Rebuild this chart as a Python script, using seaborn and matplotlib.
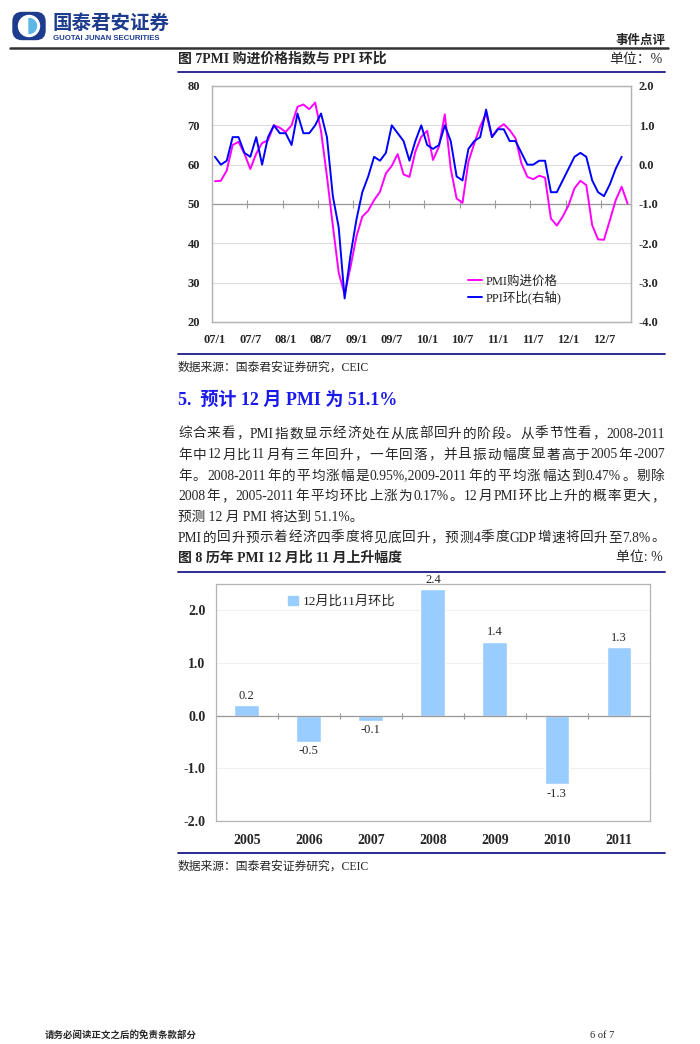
import re
import numpy as np
import pandas as pd
import seaborn as sns
import matplotlib.pyplot as plt
from matplotlib.lines import Line2D
from matplotlib.patches import FancyBboxPatch, Circle, Wedge, Patch

# ---- data ----
month_labels = ['07/1', '07/7', '08/1', '08/7', '09/1', '09/7',
                '10/1', '10/7', '11/1', '11/7', '12/1', '12/7']

# PMI purchase price index, monthly from 2007/1 (left axis)
pmi_price = [55.8, 55.9, 58.5, 65.0, 65.8, 62.8, 58.9, 62.8, 65.5, 66.2, 70.0, 69.4,
             68.3, 70.0, 74.7, 75.3, 74.1, 75.8, 68.5, 57.0, 44.5, 32.5, 27.0, 34.0,
             41.7, 46.8, 48.3, 51.0, 53.1, 57.8, 59.7, 62.7, 57.5, 56.9, 63.3, 67.1,
             68.6, 61.2, 64.6, 72.8, 59.0, 51.4, 50.3, 60.7, 65.4, 69.7, 73.0, 67.1,
             69.2, 70.3, 68.8, 66.7, 60.3, 56.9, 56.3, 57.2, 56.7, 46.3, 44.5, 46.8,
             49.7, 54.0, 55.9, 54.8, 44.6, 41.0, 40.9, 45.9, 51.0, 54.4, 50.1]

# PPI month-on-month, % (right axis)
ppi_mom = [0.2, 0.0, 0.1, 0.7, 0.7, 0.3, 0.2, 0.7, 0.0, 0.7, 1.0, 0.8,
           0.8, 0.5, 1.3, 0.8, 0.8, 1.0, 1.3, 0.7, -0.8, -1.6, -3.4, -2.3,
           -1.4, -0.7, -0.3, 0.2, 0.1, 0.3, 1.0, 0.8, 0.6, 0.1, 0.6, 1.0,
           0.5, 0.4, 0.5, 1.0, 0.6, -0.3, -0.4, 0.4, 0.6, 0.7, 1.4, 0.7,
           0.9, 0.9, 0.6, 0.6, 0.3, 0.0, 0.0, 0.1, 0.1, -0.7, -0.7, -0.4,
           -0.1, 0.2, 0.3, 0.2, -0.4, -0.7, -0.8, -0.5, -0.1, 0.2]

years = ['2005', '2006', '2007', '2008', '2009', '2010', '2011']
dec_vs_nov = [0.2, -0.5, -0.1, 2.4, 1.4, -1.3, 1.3]

body_lines = [
    '综合来看，PMI 指数显示经济处在从底部回升的阶段。从季节性看，2008-2011',
    '年中 12 月比 11 月有三年回升，一年回落，并且振动幅度显著高于 2005 年-2007',
    '年。2008-2011 年的平均涨幅是 0.95%,2009-2011 年的平均涨幅达到 0.47%。剔除',
    '2008 年，2005-2011 年平均环比上涨为 0.17%。12 月 PMI 环比上升的概率更大，',
    '预测 12 月 PMI 将达到 51.1%。',
    'PMI 的回升预示着经济四季度将见底回升，预测 4 季度 GDP 增速将回升至 7.8%。',
]

sns.set_theme(style='white')
plt.rcParams['font.family'] = ['Liberation Serif', 'Noto Sans CJK SC']
plt.rcParams['axes.unicode_minus'] = False

W, H = 700, 1044
fig = plt.figure(figsize=(7, 10.44), dpi=100)
renderer = fig.canvas.get_renderer()

NAVY = '#1d3c8e'
RULE = '#1a1a8a'
GREY = '#b4b4b4'


def ftext(x, y, s, **kw):
    kw.setdefault('va', 'center')
    return fig.text(x / W, 1 - y / H, s, **kw)


def hline(x0, x1, y, color, lw):
    fig.add_artist(Line2D([x0 / W, x1 / W], [1 - y / H, 1 - y / H], color=color, lw=lw))


def justify(line, y, x0=178, x1=665, size=9.8):
    tokens = re.findall(r'[0-9A-Za-z.,%\-]+|\S', line)
    texts = [ftext(0, y, t, fontsize=size) for t in tokens]
    widths = [t.get_window_extent(renderer).width for t in texts]
    gap = (x1 - x0 - sum(widths)) / (len(texts) - 1)
    x = x0
    for t, w in zip(texts, widths):
        t.set_x(x / W)
        x += w + gap


# ---- page header ----
lg = fig.add_axes([11 / W, 1 - 41 / H, 36 / W, 30 / H])
lg.set_xlim(0, 36)
lg.set_ylim(0, 30)
lg.axis('off')
lg.add_patch(FancyBboxPatch((2, 1.5), 32, 27, boxstyle='round,pad=0,rounding_size=9', color=NAVY))
lg.add_patch(Circle((18, 15), 10.5, color='white'))
lg.add_patch(Wedge((18, 15), 7.5, -90, 90, color='#5cb6e6'))

ftext(52, 23, '国泰君安证券', fontsize=14, weight='bold', color=NAVY, family='Noto Sans CJK SC')
ftext(53, 38, 'GUOTAI JUNAN SECURITIES', fontsize=5.6, weight='bold', color=NAVY, family='Liberation Sans')
ftext(665, 40, '事件点评', fontsize=9, weight='bold', ha='right', family='Noto Sans CJK SC')
hline(10, 668, 48, '#333333', 1.8)

# ---- figure 7 ----
ftext(178, 59, '图 7PMI 购进价格指数与 PPI 环比', fontsize=10, weight='bold')
ftext(663, 59, '单位：%', fontsize=10, ha='right')
hline(178, 665, 72, RULE, 1.3)

ax = fig.add_axes([212 / W, 1 - 322 / H, 418.5 / W, 236 / H])
ax2 = ax.twinx()
months = np.arange(len(pmi_price))
sns.lineplot(x=months, y=pmi_price, ax=ax, color='#ff00ff', linewidth=1.4)
sns.lineplot(x=months[:len(ppi_mom)], y=ppi_mom, ax=ax2, color='#0000ff', linewidth=1.4)

ax.set_xlim(-0.5, 70.5)
ax.set_ylim(20, 80)
ax2.set_ylim(-4, 2)
ax.set_yticks(np.arange(20, 81, 10))
ax2.set_yticks(np.arange(-4, 2.1, 1))
ax2.set_yticklabels([f'{v:.1f}' for v in np.arange(-4, 2.1, 1)])
ax.set_xticks(np.arange(0, 67, 6))
ax.set_xticklabels(month_labels)
ax.set_xlabel('')
ax.set_ylabel('')
ax2.set_ylabel('')
ax.tick_params(axis='x', length=0, pad=9, labelsize=9)
ax.tick_params(axis='y', length=0, pad=8.5, labelsize=9)
ax2.tick_params(axis='y', length=0, pad=6, labelsize=9)
for lab in ax.get_xticklabels() + ax.get_yticklabels() + ax2.get_yticklabels():
    lab.set_fontweight('bold')
ax.yaxis.grid(True, color='#dcdcdc', lw=0.8)
ax.set_axisbelow(True)
for a in (ax, ax2):
    for s in a.spines.values():
        s.set_color(GREY)
        s.set_linewidth(0.9)

# category axis crossing at 50, tick marks between categories
sec = ax.secondary_xaxis(0.5)
sec.set_zorder(1)
sec.set_xticks(np.arange(5.5, 70, 6))
sec.tick_params(direction='inout', length=6, color='#999999', width=0.8,
                labeltop=False, labelbottom=False)
for s in sec.spines.values():
    s.set_color('#999999')
    s.set_linewidth(0.9)

handles = [ax.lines[0], ax2.lines[0]]
ax2.legend(handles, ['PMI购进价格', 'PPI环比(右轴)'], loc='center left',
           bbox_to_anchor=(0.6, 0.135), frameon=False, fontsize=9,
           handlelength=1.1, handletextpad=0.3, labelspacing=0.25, borderaxespad=0)

hline(178, 665, 354, RULE, 1.3)
ftext(178, 368, '数据来源：国泰君安证券研究，CEIC', fontsize=8.5)

# ---- section text ----
ftext(178, 400, '5.  预计 12 月 PMI 为 51.1%', fontsize=13, weight='bold', color='#1a1aee')
body_y = [434, 455, 476, 496.5, 517, 538]
for line, y in zip(body_lines, body_y):
    if line.startswith('预测 12'):
        ftext(178, y, line, fontsize=9.8)
    else:
        justify(line, y)

# ---- figure 8 ----
ftext(178, 558, '图 8 历年 PMI 12 月比 11 月上升幅度', fontsize=10, weight='bold')
ftext(663, 558, '单位: %', fontsize=10, ha='right')
hline(178, 665, 572, RULE, 1.3)

axb = fig.add_axes([215.7 / W, 1 - 821 / H, 434.3 / W, 237 / H])
sns.barplot(x=years, y=dec_vs_nov, ax=axb, color='#99ccff', saturation=1, width=0.4)
axb.set_xlim(-0.5, 6.5)
axb.set_ylim(-2, 2.5)
axb.set_yticks([-2, -1, 0, 1, 2])
axb.set_yticklabels([f'{v:.1f}' for v in [-2, -1, 0, 1, 2]])
axb.set_xlabel('')
axb.set_ylabel('')
axb.tick_params(axis='x', length=0, pad=9, labelsize=10)
axb.tick_params(axis='y', length=0, pad=7.5, labelsize=10)
for lab in axb.get_xticklabels() + axb.get_yticklabels():
    lab.set_fontweight('bold')
axb.yaxis.grid(True, color='#f0f0f0', lw=0.8)
axb.set_axisbelow(True)
for s in axb.spines.values():
    s.set_color(GREY)
    s.set_linewidth(0.9)
axb.bar_label(axb.containers[0], fmt='%.1f', padding=2.5, fontsize=9)

secb = axb.secondary_xaxis(2 / 4.5)
secb.set_zorder(1)
secb.set_xticks(np.arange(0.5, 6, 1))
secb.tick_params(direction='inout', length=5, color='#999999', width=0.8,
                 labeltop=False, labelbottom=False)
for s in secb.spines.values():
    s.set_color('#999999')
    s.set_linewidth(0.9)

axb.legend([Patch(color='#99ccff')], ['12月比11月环比'], loc='center left',
           bbox_to_anchor=(0.155, 0.925), frameon=False, fontsize=9.5,
           handlelength=0.7, handleheight=0.7, handletextpad=0.4, borderaxespad=0)

hline(178, 665, 853, RULE, 1.3)
ftext(178, 867, '数据来源：国泰君安证券研究，CEIC', fontsize=8.5)

# ---- footer ----
ftext(45, 1035, '请务必阅读正文之后的免责条款部分', fontsize=6.8, weight='bold')
ftext(590, 1035, '6 of 7', fontsize=7.5)

fig.savefig('out.png', dpi=100)
